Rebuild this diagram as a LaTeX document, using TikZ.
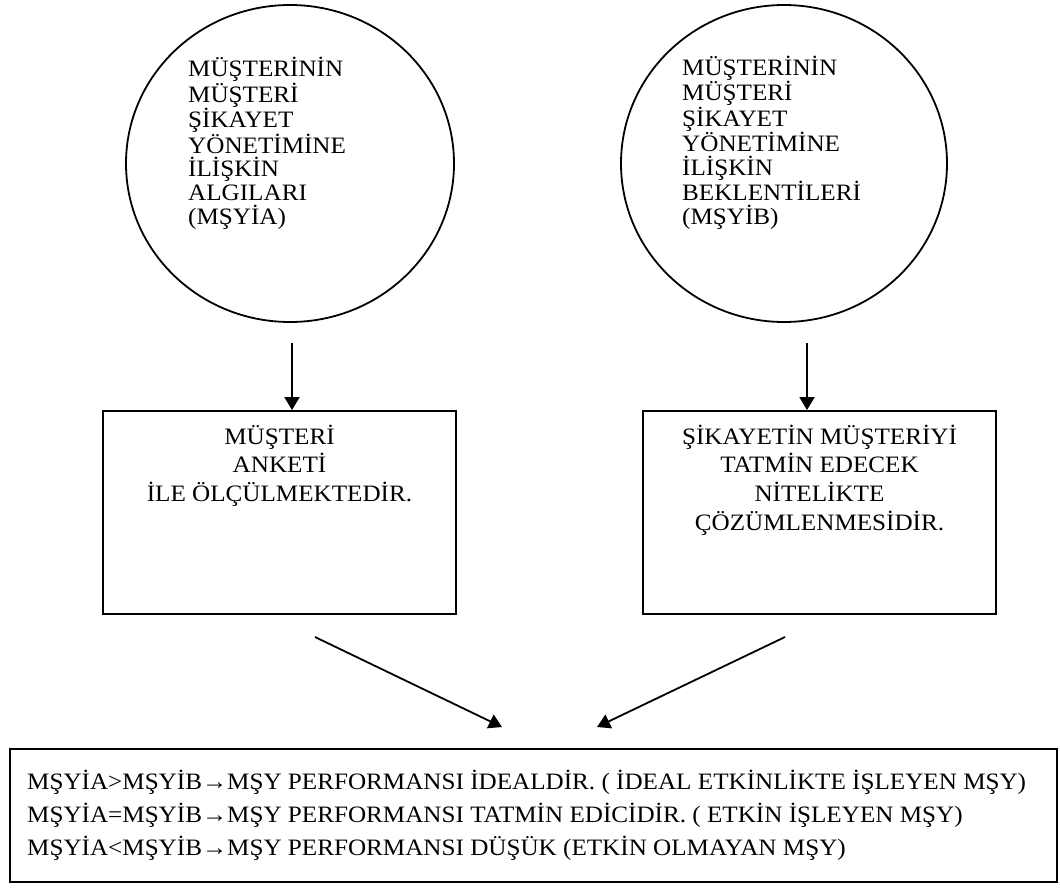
\documentclass[tikz,border=0pt]{standalone}
\usepackage{fontspec}
\setmainfont{Liberation Serif}[FakeStretch=1.07]
\usetikzlibrary{shapes.geometric,arrows.meta}

\tikzset{
  bubble/.style={draw, line width=1.8pt, ellipse, inner sep=0pt},
  panel/.style={draw, line width=1.8pt, rectangle, inner sep=0pt},
  bubbletext/.style={inner sep=0pt, align=left, anchor=base west,
    font=\fontsize{23.5}{23.7}\selectfont},
  paneltext/.style={inner sep=0pt, align=center, anchor=base,
    font=\fontsize{23.5}{28.7}\selectfont},
  resulttext/.style={inner sep=0pt, align=left, anchor=base west,
    font=\fontsize{23.5}{33}\selectfont},
  flow/.style={line width=1.8pt, -{Triangle[length=13pt,width=15pt]}}
}

\begin{document}
\begin{tikzpicture}[x=1pt,y=-1pt]
\useasboundingbox (0,0) rectangle (1060,888);

% perception and expectation bubbles
\node[bubble, minimum width=328pt, minimum height=317pt] (c1) at (290,163.5) {};
\node[bubble, minimum width=326pt, minimum height=317pt] (c2) at (784,163.5) {};
% text nodes are anchored at the baseline of their last line
\node[bubbletext] (t1) at (188,224.2) {MÜŞTERİNİN\\MÜŞTERİ\\ŞİKAYET\\YÖNETİMİNE\\İLİŞKİN\\ALGILARI\\(MŞYİA)};
\node[bubbletext] (t2) at (682,224.2) {MÜŞTERİNİN\\MÜŞTERİ\\ŞİKAYET\\YÖNETİMİNE\\İLİŞKİN\\BEKLENTİLERİ\\(MŞYİB)};

% measurement panels
\node[panel, minimum width=353pt, minimum height=203pt] (b1) at (279.5,512.5) {};
\node[panel, minimum width=353pt, minimum height=203pt] (b2) at (819.5,512.5) {};
\node[paneltext] (bt1) at (279.5,501.4) {MÜŞTERİ\\ANKETİ\\İLE ÖLÇÜLMEKTEDİR.};
\node[paneltext] (bt2) at (819.5,530.1) {ŞİKAYETİN MÜŞTERİYİ\\TATMİN EDECEK\\NİTELİKTE\\ÇÖZÜMLENMESİDİR.};

% result panel
\node[panel, minimum width=1047pt, minimum height=133pt] (b3) at (533.5,815.5) {};
\node[resulttext] (rt) at (27,855) {MŞYİA>MŞYİB→MŞY PERFORMANSI İDEALDİR. ( İDEAL ETKİNLİKTE İŞLEYEN MŞY)\\
MŞYİA=MŞYİB→MŞY PERFORMANSI TATMİN EDİCİDİR. ( ETKİN İŞLEYEN MŞY)\\
MŞYİA<MŞYİB→MŞY PERFORMANSI DÜŞÜK (ETKİN OLMAYAN MŞY)};

% connectors
\coordinate (s1) at (292,343);
\coordinate (s2) at (807,343);
\draw[flow] (s1) -- (s1 |- b1.north);
\draw[flow] (s2) -- (s2 |- b2.north);

\coordinate (d1s) at (315,637);
\coordinate (d1e) at (502,727);
\coordinate (d2s) at (785,637);
\coordinate (d2e) at (597,727);
\draw[flow] (d1s) -- (d1e);
\draw[flow] (d2s) -- (d2e);
\end{tikzpicture}
\end{document}
